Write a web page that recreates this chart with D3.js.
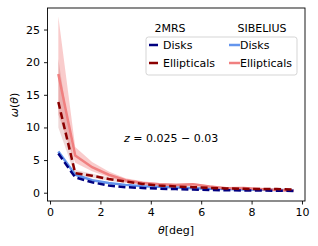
<!DOCTYPE html>
<head>
	<meta charset="utf-8">
	<style>
		body { margin: 0; font: 11px "DejaVu Sans"; }
		.line { fill: none; stroke-width: 2.5px; }
		.axis text { font: 11px "DejaVu Sans"; fill: #000; }
		.axis path, .axis line { stroke: #000; stroke-width: 0.9px; }
		.legend { font: 11px "DejaVu Sans"; fill: #000; }
		.it { font-style: italic; }
	</style>
</head>
<body>
<script src="https://d3js.org/d3.v7.min.js"></script>
<script>
// angular bins (deg)
var theta = [0.33, 1.0, 1.67, 2.33, 3.0, 3.67, 4.33, 5.0, 5.67, 6.33, 7.0, 7.67, 8.33, 9.0, 9.67];

// 2MRS (dashed)
var mrsDisks = [6.0, 2.35, 1.6, 1.1, 0.85, 0.72, 0.62, 0.55, 0.48, 0.42, 0.38, 0.35, 0.33, 0.3, 0.28];
var mrsEll   = [13.9, 3.0, 2.6, 2.1, 1.7, 1.35, 1.1, 0.95, 0.85, 0.75, 0.65, 0.6, 0.55, 0.55, 0.5];
var mrsEllLo = [10.0, 2.6, 2.3, 1.85, 1.5, 1.2, 0.98, 0.85, 0.75, 0.66, 0.57, 0.52, 0.48, 0.47, 0.43];
var mrsEllHi = [20.5, 3.5, 2.9, 2.35, 1.9, 1.5, 1.22, 1.05, 0.95, 0.84, 0.73, 0.68, 0.62, 0.63, 0.57];

// SIBELIUS (solid)
var sibDisks = [6.3, 2.75, 1.9, 1.5, 1.2, 1.0, 0.9, 0.8, 0.7, 0.62, 0.55, 0.5, 0.45, 0.4, 0.38];
var sibEll   = [18.2, 5.7, 3.9, 2.75, 1.9, 1.5, 1.3, 1.2, 1.3, 0.95, 0.7, 0.72, 0.55, 0.4, 0.3];
var sibEllLo = [12.0, 4.6, 3.3, 2.35, 1.6, 1.28, 1.1, 1.02, 1.1, 0.8, 0.58, 0.6, 0.45, 0.32, 0.22];
var sibEllHi = [27.0, 7.0, 4.7, 3.25, 2.2, 1.75, 1.5, 1.4, 1.5, 1.12, 0.84, 0.86, 0.66, 0.5, 0.4];

var xTicks = [0, 2, 4, 6, 8, 10];
var yTicks = [0, 5, 10, 15, 20, 25];

var width = 318, height = 246;
var plot = {left: 47.5, right: 305, top: 8, bottom: 201};

var svg = d3.select("body").append("svg")
	.attr("width", width)
	.attr("height", height);

var x = d3.scaleLinear().domain([-0.1, 10.12]).range([plot.left, plot.right]);
var y = d3.scaleLinear().domain([-1.27, 28.3]).range([plot.bottom, plot.top]);

// bands
var band = function(lo, hi) {
	return d3.area()
		.x(function(d, i) { return x(theta[i]); })
		.y0(function(d, i) { return y(lo[i]); })
		.y1(function(d, i) { return y(hi[i]); })(theta);
};
svg.append("path").attr("d", band(sibEllLo, sibEllHi))
	.style("fill", "#f08080").style("opacity", 0.4);
svg.append("path").attr("d", band(mrsEllLo, mrsEllHi))
	.style("fill", "#a52a2a").style("opacity", 0.18);

var line = function(vals) {
	return d3.line()
		.x(function(d, i) { return x(theta[i]); })
		.y(function(d, i) { return y(vals[i]); })(theta);
};

// SIBELIUS solid lines
svg.append("path").attr("class", "line").attr("d", line(sibDisks)).style("stroke", "#6495ed");
svg.append("path").attr("class", "line").attr("d", line(sibEll)).style("stroke", "#f08080");
// 2MRS dashed lines
svg.append("path").attr("class", "line").attr("d", line(mrsDisks))
	.style("stroke", "#000080").style("stroke-dasharray", "7,3.5");
svg.append("path").attr("class", "line").attr("d", line(mrsEll))
	.style("stroke", "#8b0000").style("stroke-dasharray", "7,3.5");

// frame
svg.append("rect")
	.attr("x", plot.left).attr("y", plot.top)
	.attr("width", plot.right - plot.left).attr("height", plot.bottom - plot.top)
	.style("fill", "none").style("stroke", "#000").style("stroke-width", 0.9);

// axes
svg.append("g")
	.attr("class", "axis")
	.attr("transform", "translate(0," + plot.bottom + ")")
	.call(d3.axisBottom(x).tickValues(xTicks).tickSize(3.5).tickPadding(4).tickFormat(d3.format("d")))
	.select(".domain").remove();

svg.append("g")
	.attr("class", "axis")
	.attr("transform", "translate(" + plot.left + ",0)")
	.call(d3.axisLeft(y).tickValues(yTicks).tickSize(3.5).tickPadding(4).tickFormat(d3.format("d")))
	.select(".domain").remove();

// axis labels (mathtext style)
var yl = svg.append("text")
	.attr("class", "legend")
	.attr("transform", "translate(18,105) rotate(-90)")
	.attr("text-anchor", "middle");
yl.append("tspan").attr("class", "it").text("ω");
yl.append("tspan").text("(");
yl.append("tspan").attr("class", "it").text("θ");
yl.append("tspan").text(")");

var xl = svg.append("text")
	.attr("class", "legend")
	.attr("x", 176).attr("y", 234)
	.attr("text-anchor", "middle");
xl.append("tspan").attr("class", "it").text("θ");
xl.append("tspan").text("[deg]");

// redshift annotation
var zt = svg.append("text").attr("class", "legend").attr("x", 124).attr("y", 142);
zt.append("tspan").attr("class", "it").text("z");
zt.append("tspan").text(" = 0.025 − 0.03");

// legend
svg.append("rect")
	.attr("x", 146).attr("y", 37).attr("width", 151).attr("height", 38)
	.attr("rx", 2.5)
	.style("fill", "#fff").style("fill-opacity", 0.8)
	.style("stroke", "#d0d0d0").style("stroke-width", 0.9);

svg.append("text").attr("class", "legend").attr("x", 170).attr("y", 32)
	.attr("text-anchor", "middle").text("2MRS");
svg.append("text").attr("class", "legend").attr("x", 262).attr("y", 32)
	.attr("text-anchor", "middle").text("SIBELIUS");

var legendRows = [
	{label: "Disks", mrs: "#000080", sib: "#6495ed", y: 45},
	{label: "Ellipticals", mrs: "#8b0000", sib: "#f08080", y: 63}
];
legendRows.forEach(function(r) {
	svg.append("line").attr("x1", 149).attr("x2", 158).attr("y1", r.y).attr("y2", r.y)
		.style("stroke", r.mrs).style("stroke-width", 2.5);
	svg.append("text").attr("class", "legend").attr("x", 163).attr("y", r.y + 4).text(r.label);
	svg.append("line").attr("x1", 229).attr("x2", 240).attr("y1", r.y).attr("y2", r.y)
		.style("stroke", r.sib).style("stroke-width", 2.5);
	svg.append("text").attr("class", "legend").attr("x", 240).attr("y", r.y + 4).text(r.label);
});
</script>
</body>
